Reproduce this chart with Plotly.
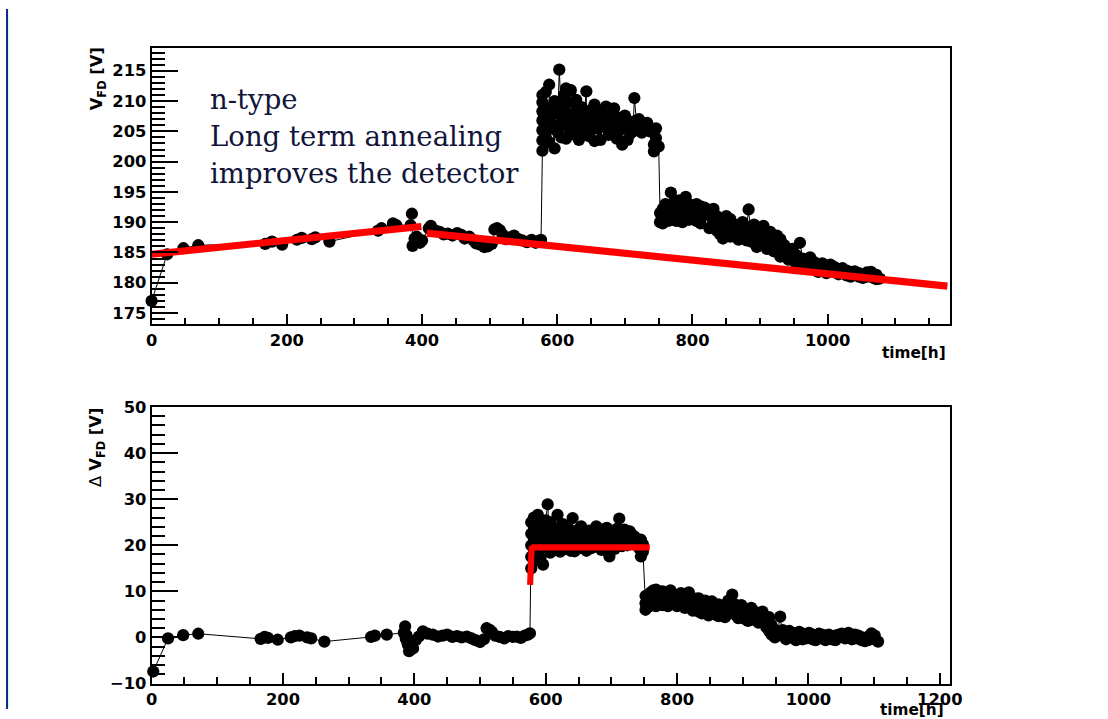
import plotly.graph_objects as go

# ---------------------------------------------------------------------------
# Full-depletion voltage V_FD [V] versus time [h]  (upper pad)
# each entry: (time, [measurements taken at that time])
# ---------------------------------------------------------------------------
vfd_samples = [
    (0, [177.0]), (23, [184.7]), (47, [185.7]), (69, [186.2]),
    (168, [186.4]), (178, [186.8]), (193, [186.3]), (215, [187.1]), (222, [187.4]),
    (237, [187.2]), (242, [187.5]), (263, [186.8]),
    (335, [188.6]), (340, [189.0]), (357, [189.8]), (362, [189.5]),
    (383, [189.5]), (385, [191.4]), (386, [186.1]), (389, [187.3]), (392, [187.6]),
    (397, [186.6]), (400, [187.0]),
    (410, [189.0]), (413, [189.4]), (420, [188.6]), (426, [188.4]), (432, [188.0]),
    (438, [188.1]), (445, [187.8]), (452, [188.2]), (458, [187.9]), (463, [187.3]),
    (470, [187.6]), (476, [187.0]), (480, [186.5]), (486, [186.3]), (492, [185.9]),
    (497, [186.0]), (503, [186.4]), (507, [188.8]), (511, [189.0]), (515, [188.7]),
    (519, [188.0]), (524, [187.2]), (530, [187.5]), (536, [187.8]), (541, [187.3]),
    (548, [187.0]), (555, [186.7]), (562, [187.1]), (568, [186.6]), (573, [186.9]),
    (576, [187.1]),
    (578, [201.8, 203.5, 205.2, 206.8, 208.3, 209.8, 211.0]),
    (583, [204.0, 206.5, 208.8, 211.5]), (588, [212.7, 207.0, 203.2]),
    (592, [205.5, 209.0, 207.8]), (596, [202.2, 206.0, 210.0]), (600, [208.4, 205.0]),
    (603, [215.2]), (606, [207.5, 204.0, 209.5]), (610, [206.2, 211.0]),
    (613, [212.1, 208.0, 203.8]), (617, [205.5, 209.8]), (620, [211.8, 207.0]),
    (624, [204.5, 206.8]), (628, [210.2, 208.4, 205.8]), (632, [203.6, 207.2]),
    (636, [209.0, 206.2]), (640, [204.6, 208.2]), (643, [211.6, 207.4]),
    (647, [204.2, 206.6]), (651, [208.6, 205.4]), (655, [203.4, 209.4, 207.0]),
    (660, [205.4, 208.0]), (664, [206.4, 203.6]), (668, [208.4, 205.8]),
    (672, [207.2, 209.1]), (676, [204.4, 206.8]), (680, [208.0, 205.0]),
    (684, [208.8, 206.4]), (688, [203.8, 206.0]), (692, [207.2, 205.2]),
    (696, [202.8, 205.8]), (700, [207.6, 206.0]), (704, [203.6, 205.4]),
    (708, [206.6, 204.6]), (712, [206.2, 205.0]), (714, [210.5]),
    (717, [206.8, 205.4]), (721, [205.8, 207.0]), (725, [204.8, 206.2]),
    (729, [206.0, 205.2]), (733, [206.4]), (737, [205.0]), (743, [201.7, 202.8]),
    (746, [205.5, 203.9]), (750, [202.5]),
    (752, [191.5, 190.0]), (756, [192.2, 189.8]), (760, [190.8, 193.0]),
    (764, [190.2, 191.8]), (768, [194.9, 192.4, 190.4]), (772, [191.0, 193.2]),
    (776, [190.2, 192.0]), (780, [193.6, 191.2]), (785, [190.0, 192.4]),
    (790, [194.2, 191.6]), (795, [190.4, 193.0]), (800, [192.0, 190.6]),
    (806, [193.0, 190.2, 191.6]), (812, [192.6, 189.8]), (818, [191.2, 192.4]),
    (825, [189.0, 191.6]), (831, [192.2, 190.0]), (836, [188.6, 191.0]),
    (841, [190.4, 188.0]), (845, [187.3, 189.6]), (850, [191.0, 188.6]),
    (856, [190.5, 187.6, 189.0]), (862, [188.0, 189.6]), (868, [187.1, 189.0]),
    (874, [188.4, 190.0]), (880, [187.0, 189.2]), (883, [192.1]),
    (887, [186.8, 188.6]), (891, [189.6, 187.6]), (895, [185.9, 188.0]),
    (900, [187.0, 189.0]), (905, [189.4, 186.4]), (910, [187.6, 185.6]),
    (915, [188.4, 186.2]), (920, [185.2, 187.0]), (925, [186.0, 187.8]),
    (930, [184.3, 187.2, 185.6]), (936, [184.8, 186.2]), (942, [185.4, 183.8]),
    (948, [184.4, 185.6]), (953, [183.2, 184.6]), (959, [186.6]),
    (963, [184.0, 182.8]), (968, [183.6, 182.4]), (974, [184.2, 182.6]),
    (980, [182.2, 183.4]), (986, [183.0, 181.8]), (992, [182.4, 183.2]),
    (998, [181.6, 182.8]), (1004, [183.0, 182.0]), (1010, [181.8, 182.6]),
    (1016, [182.2, 181.4]), (1022, [181.6, 182.4]), (1028, [181.2, 182.0]),
    (1034, [181.8, 181.0]), (1040, [181.4, 181.9]), (1046, [181.0, 181.6]),
    (1052, [181.4, 180.8]), (1058, [181.7, 181.0]), (1064, [181.2, 181.8]),
    (1068, [180.8, 181.4]), (1072, [181.3, 180.6]), (1077, [180.7]),
]

# long-term annealing fits (two straight segments)
fit1_time = [0, 399]
fit1_vfd = [184.7, 189.3]
fit2_time = [407, 1177]
fit2_vfd = [188.2, 179.45]

# ---------------------------------------------------------------------------
# Deviation Delta V_FD [V] versus time [h]  (lower pad)
# ---------------------------------------------------------------------------
dvfd_samples = [
    (2.5, [-7.4]), (25, [-0.2]), (48, [0.5]), (71, [0.8]),
    (166, [-0.3]), (172, [0.1]), (177, [-0.1]), (192, [-0.5]), (212, [0.0]),
    (218, [0.3]), (225, [0.4]), (237, [0.0]), (243, [-0.2]), (263, [-0.9]),
    (334, [0.1]), (340, [0.4]), (358, [0.6]),
    (384, [1.0]), (386, [2.4]), (387, [-0.3]), (388, [0.5]), (390, [-1.5]),
    (392, [-3.0]), (398, [-2.4]), (402, [-0.6]), (407, [0.2]), (413, [1.3]),
    (420, [0.8]), (428, [0.6]), (436, [0.2]), (443, [0.4]), (450, [0.6]),
    (458, [0.1]), (465, [0.3]), (472, [0.0]), (480, [0.2]), (487, [-0.2]),
    (493, [-0.6]), (500, [-1.0]), (506, [-0.4]), (510, [2.0]), (514, [1.7]),
    (518, [1.2]), (523, [0.4]), (530, [0.1]), (537, [-0.2]), (543, [0.3]),
    (550, [0.1]), (556, [0.2]), (562, [-0.1]), (568, [0.4]), (573, [0.6]),
    (576, [0.9]),
    (578, [15.0, 17.5, 20.0, 22.5, 25.0]), (582, [16.5, 19.0, 21.5, 24.0, 26.0]),
    (588, [26.6, 22.0, 18.5]), (592, [20.4, 24.2, 17.2]), (596, [15.8, 19.6, 23.0]),
    (600, [21.6, 25.4]), (603, [28.9]), (607, [18.4, 22.4, 25.0]),
    (611, [20.6, 23.8]), (615, [19.0, 22.0]), (618, [26.6, 21.0]),
    (622, [18.6, 23.4]), (626, [20.8, 24.6]), (630, [19.2, 22.4]),
    (634, [23.8, 20.2]), (638, [18.8, 22.6]), (641, [25.9, 21.4]),
    (644, [18.7, 23.0]), (648, [20.4, 22.2]), (652, [19.4, 23.6]),
    (654, [24.1, 21.0]), (658, [19.8, 22.6]), (662, [21.4, 18.8]),
    (666, [23.2, 20.4]), (670, [19.4, 22.0]), (674, [21.6, 23.4]),
    (677, [24.1, 19.8]), (681, [21.8, 20.2]), (685, [23.4, 19.0]),
    (689, [21.0, 22.6]), (693, [19.6, 23.8]), (697, [17.6, 21.6]),
    (701, [22.8, 20.0]), (705, [19.2, 23.0]), (709, [21.4, 23.6]),
    (712, [25.8, 20.6]), (716, [22.2, 19.8]), (720, [23.4, 21.2]),
    (724, [20.0, 22.4]), (728, [21.6, 23.0]), (732, [20.6, 22.2]),
    (736, [21.8]), (742, [19.4]), (745, [21.2, 17.6]), (748, [20.2, 18.6]),
    (752, [7.4, 6.0, 9.0]), (756, [8.4, 6.6]), (760, [9.8, 7.2]), (764, [8.0, 10.2]),
    (768, [10.4, 8.6, 6.8]), (773, [7.8, 9.6]), (778, [10.0, 7.0]), (782, [8.4, 9.4]),
    (786, [6.8, 9.0]), (790, [10.2, 8.0]), (795, [7.4, 9.2]), (800, [8.6, 6.8]),
    (806, [9.6, 7.6]), (812, [6.4, 8.8]), (818, [8.0, 9.8]), (824, [7.0, 5.8]),
    (829, [8.4, 6.4]), (833, [8.5, 5.6]), (838, [7.6, 5.2]), (843, [6.4, 8.0]),
    (848, [4.8, 7.0]), (853, [6.0, 7.8]), (858, [5.0, 6.8]), (863, [7.2, 4.6]),
    (868, [5.4, 6.4]), (873, [7.0, 4.4]), (878, [5.8, 8.0]), (884, [9.3, 6.4]),
    (888, [5.0, 7.2]), (893, [6.0, 4.2]), (898, [7.0, 5.2]), (903, [4.0, 6.2]),
    (908, [5.4, 3.6]), (913, [6.4, 4.6]), (918, [3.8, 5.6]), (924, [4.8, 3.2]),
    (930, [5.6, 4.0]), (936, [3.4, 2.2]), (940, [4.4, 1.4]), (944, [0.6, 2.6]),
    (949, [1.6, 0.0]), (953, [1.0]), (957, [4.5]), (961, [0.4, 1.6]),
    (966, [0.8, -0.4]), (971, [1.4, 0.2]), (976, [0.0, 1.0]), (981, [0.6, -0.6]),
    (986, [1.2, 0.2]), (991, [-0.4, 0.8]), (996, [0.4, -0.2]), (1001, [1.0, 0.0]),
    (1006, [-0.4, 0.6]), (1011, [0.2, -0.6]), (1016, [0.8, 0.0]), (1021, [-0.2, 0.6]),
    (1026, [0.2, -0.6]), (1031, [0.6, -0.2]), (1036, [-0.4, 0.2]), (1041, [0.4, -0.6]),
    (1046, [0.0, 0.6]), (1051, [0.8, 0.2]), (1056, [0.4, -0.2]), (1061, [1.0, 0.4]),
    (1066, [0.2, -0.4]), (1071, [0.6, -0.2]), (1076, [-0.2, 0.4]), (1081, [0.0, -0.6]),
    (1086, [-0.8, -0.4]), (1091, [-0.6, 0.2]), (1096, [0.9, 0.0]), (1101, [-0.4, 0.4]),
    (1106, [-0.9]),
]

# step fit of the irradiation-induced shift
step_time = [576.3, 577.0, 578.5, 581.0, 758.4]
step_dvfd = [11.4, 18.0, 19.3, 19.55, 19.55]


def expand(samples):
    xs, ys = [], []
    for t, vals in samples:
        for v in vals:
            xs.append(t)
            ys.append(v)
    return xs, ys


time_top, vfd_top = expand(vfd_samples)
time_bot, dvfd_bot = expand(dvfd_samples)

# canvas size and the mapping from the slide's pixel grid to canvas pixels
W, H = 1108, 719
OX, OY = 4.9, 7.5      # slide origin inside the canvas frame
SX, SY = 0.987, 0.974  # slide pixel -> canvas pixel scale


def fx(p):
    return ((p - OX) / SX) / W


def fy(p):
    return 1 - ((p - OY) / SY) / H


K = 1 / 0.98  # size factor for fonts / marks on the slide grid
BLACK = "#000000"
RED = "#ff0000"
tick_font = dict(family="DejaVu Sans", size=16 * K, color=BLACK, weight="bold")

fig = go.Figure()

marker = dict(symbol="circle", size=12 * K, color=BLACK)
fig.add_trace(go.Scatter(x=time_top, y=vfd_top, mode="lines+markers",
                         line=dict(color=BLACK, width=1), marker=marker,
                         cliponaxis=False, xaxis="x", yaxis="y", showlegend=False))
fig.add_trace(go.Scatter(x=fit1_time, y=fit1_vfd, mode="lines",
                         line=dict(color=RED, width=7 * K), xaxis="x", yaxis="y",
                         showlegend=False))
fig.add_trace(go.Scatter(x=fit2_time, y=fit2_vfd, mode="lines",
                         line=dict(color=RED, width=7 * K), xaxis="x", yaxis="y",
                         showlegend=False))

fig.add_trace(go.Scatter(x=time_bot, y=dvfd_bot, mode="lines+markers",
                         line=dict(color=BLACK, width=1), marker=marker,
                         cliponaxis=False, xaxis="x2", yaxis="y2", showlegend=False))
fig.add_trace(go.Scatter(x=step_time, y=step_dvfd, mode="lines",
                         line=dict(color=RED, width=6 * K), xaxis="x2", yaxis="y2",
                         showlegend=False))


def axis(rng, dom, dtick, tick0, mdtick, tlen, mlen, anchor):
    return dict(range=rng, domain=dom, anchor=anchor, showline=True, mirror=True,
                linecolor=BLACK, linewidth=2, ticks="inside", ticklen=tlen, tickwidth=2,
                tickcolor=BLACK, dtick=dtick, tick0=tick0,
                minor=dict(dtick=mdtick, ticks="inside", ticklen=mlen, tickwidth=1.5,
                           tickcolor=BLACK, showgrid=False),
                showgrid=False, zeroline=False, tickfont=tick_font)


xdom = [fx(151), fx(952.3)]
fig.update_layout(
    width=W, height=H, margin=dict(l=0, r=0, t=0, b=0),
    paper_bgcolor="white", plot_bgcolor="white",
    xaxis=axis([0, 1181.3], xdom, 200, 0, 50, 10.3, 6.2, "y"),
    yaxis=axis([173.18, 218.73], [fy(322.7), fy(46.7)], 5, 175, 1, 26.3, 13.2, "x"),
    xaxis2=axis([0, 1216], xdom, 200, 0, 50, 10.3, 6.2, "y2"),
    yaxis2=axis([-10, 50], [fy(682.3), fy(405.7)], 10, -10, 2, 26.3, 13.2, "x2"),
)

text_font = dict(family="DejaVu Serif", size=27 * K, color="#111539")
notes = [("n-type", 98), ("Long term annealing", 135), ("improves the detector", 172)]
for txt, ypx in notes:
    fig.add_annotation(text=txt, x=fx(208), y=fy(ypx), xref="paper", yref="paper",
                       xanchor="left", yanchor="middle", showarrow=False, font=text_font)

title_font = dict(family="DejaVu Sans", size=15 * K, color=BLACK, weight="bold")
fig.add_annotation(text="time[h]", x=fx(950), y=fy(352), xref="paper", yref="paper",
                   xanchor="right", yanchor="middle", showarrow=False, font=title_font)
fig.add_annotation(text="time[h]", x=fx(948), y=fy(709), xref="paper", yref="paper",
                   xanchor="right", yanchor="middle", showarrow=False, font=title_font)
fig.add_annotation(text="V<sub>FD</sub> [V]", x=fx(97), y=fy(77), xref="paper", yref="paper",
                   xanchor="center", yanchor="middle", textangle=-90, showarrow=False,
                   font=dict(family="DejaVu Sans", size=16 * K, color=BLACK, weight="bold"))
fig.add_annotation(text="Δ <b>V<sub>FD</sub> [V]</b>", x=fx(96), y=fy(446),
                   xref="paper", yref="paper", xanchor="center", yanchor="middle",
                   textangle=-90, showarrow=False,
                   font=dict(family="DejaVu Sans", size=16 * K, color=BLACK))

# slide frame: blue band along the left edge
BLUE = "#0b2e8c"
fig.add_shape(type="rect", xref="paper", yref="paper", x0=0, x1=fx(7), y0=0, y1=1,
              fillcolor=BLUE, line=dict(width=0), layer="above")

fig.write_html("out.html")
